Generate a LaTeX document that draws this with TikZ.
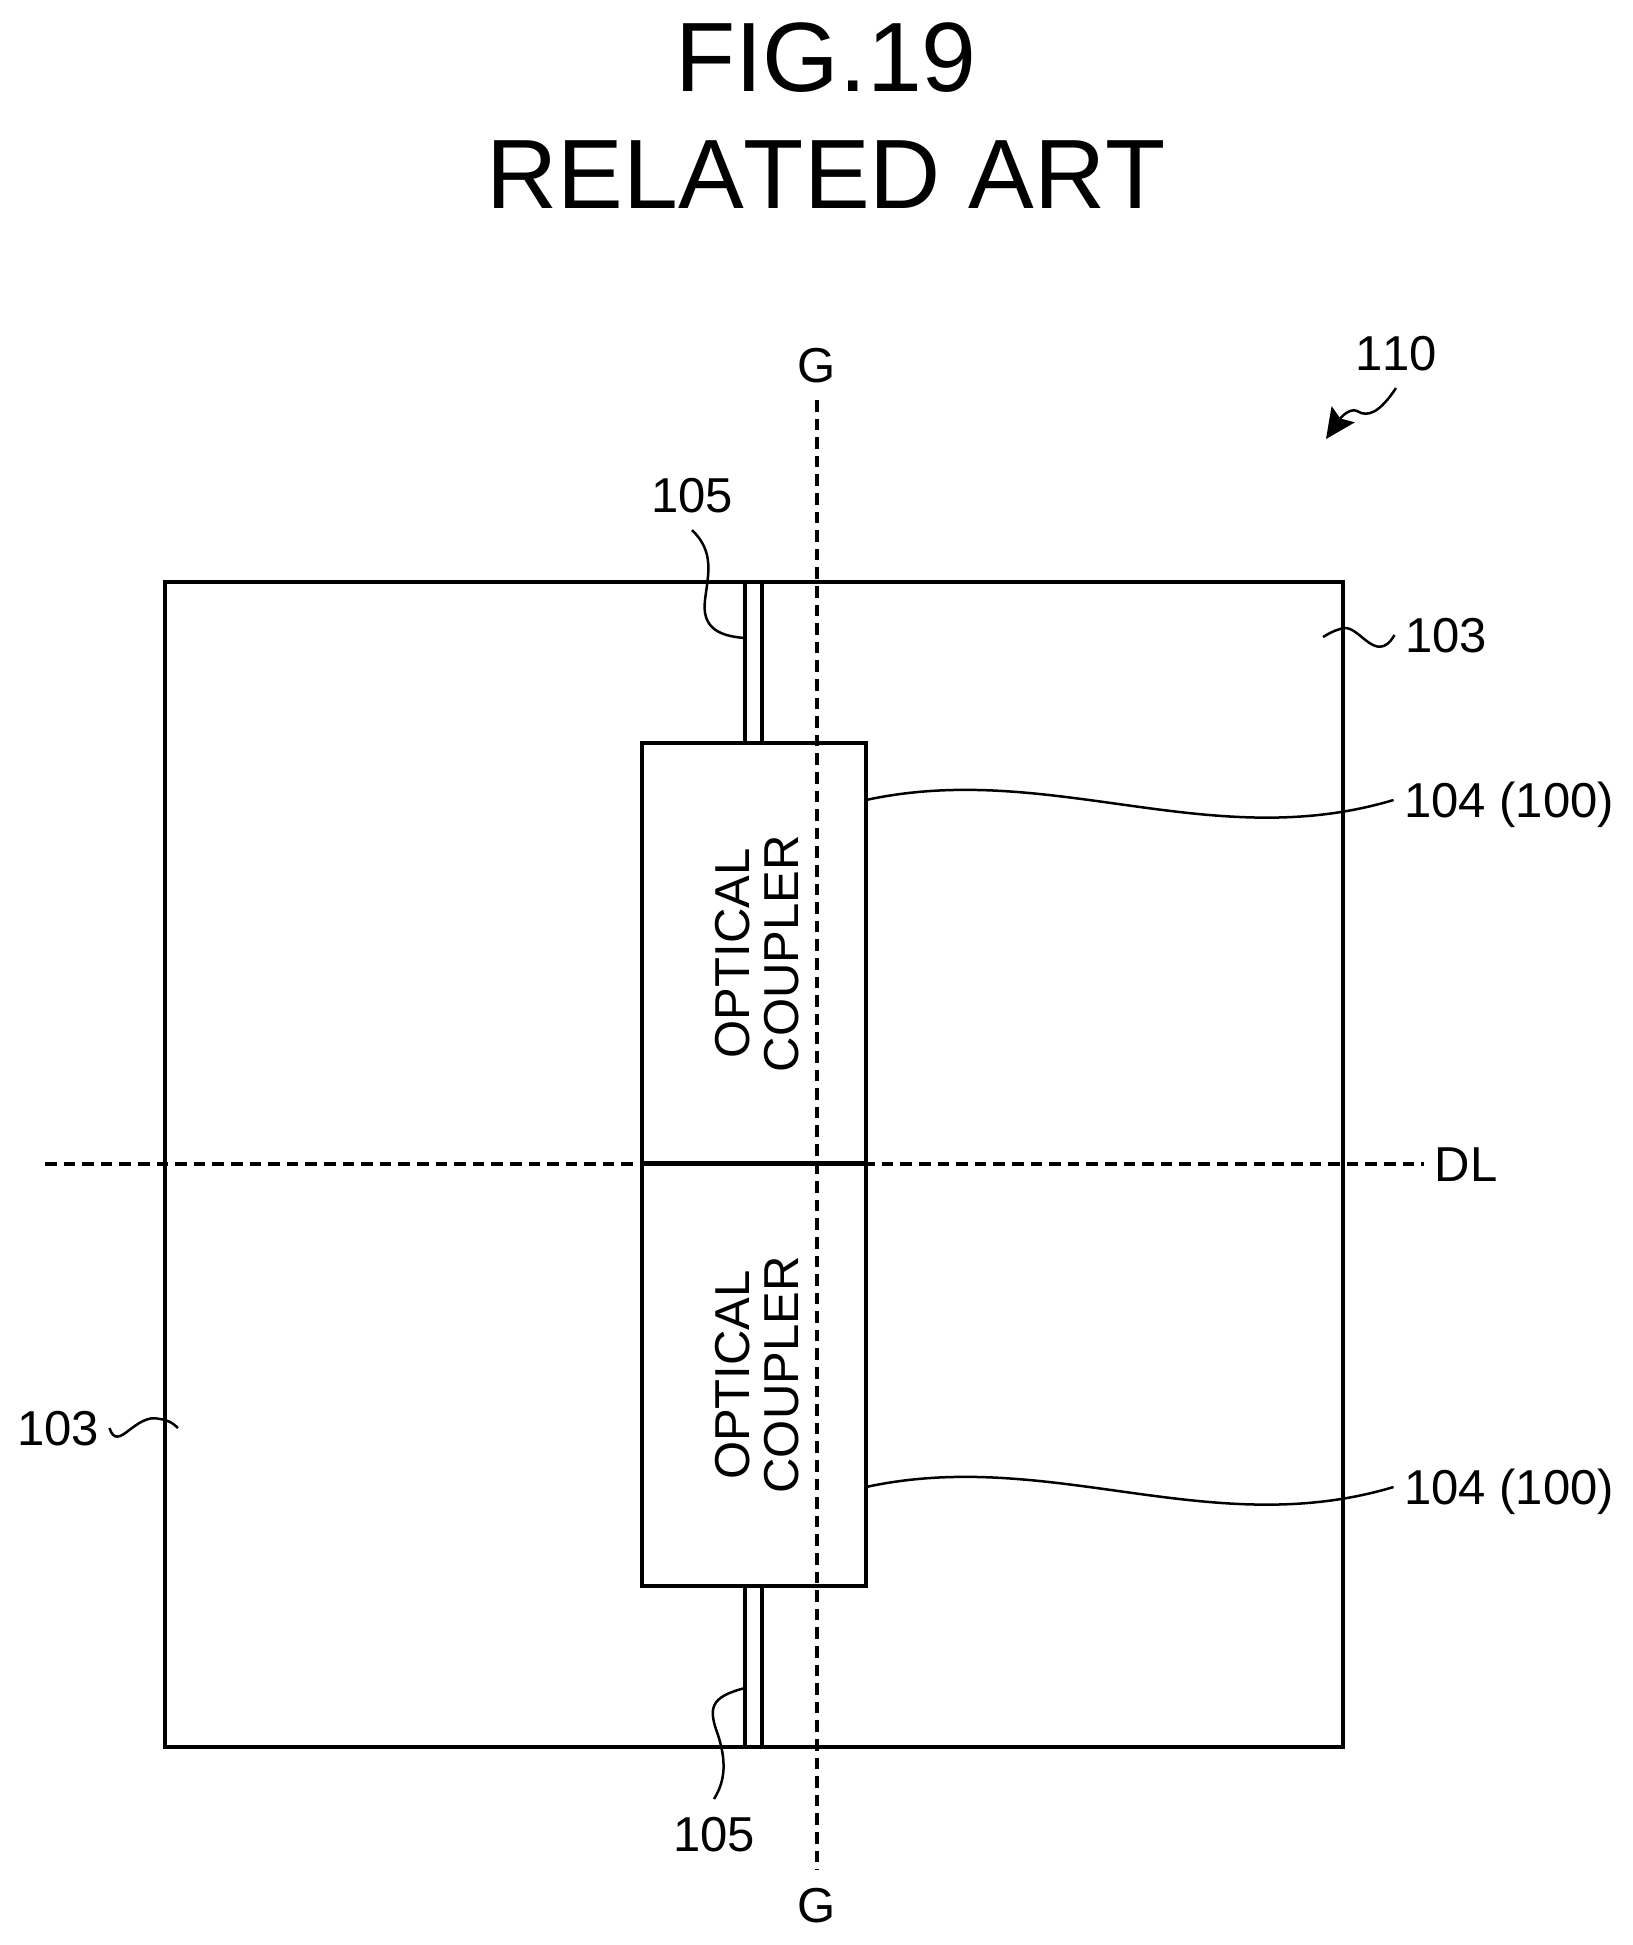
\documentclass[tikz,border=0pt]{standalone}
\usepackage{fontspec}
\setmainfont[Kerning=Off]{Liberation Sans}
\usetikzlibrary{arrows.meta}
\tikzstyle{chip} = [draw=black, line width=0.085cm]
\tikzstyle{wguide} = [draw=black, line width=0.075cm]
\tikzstyle{coupler} = [draw=black, line width=0.085cm, minimum width=4.48cm, minimum height=8.43cm, inner sep=0pt, outer sep=0pt]
\tikzstyle{cpltext} = [rotate=90, align=center, inner sep=0pt, font=\fontsize{27.9}{28.3}\selectfont]
\tikzstyle{reflbl} = [inner sep=0pt, outer sep=6pt, text height=0.7cm, text depth=0pt, font=\fontsize{27.9}{30}\selectfont]
\tikzstyle{title} = [inner sep=0pt, font=\fontsize{56.1}{60}\selectfont]
\tikzstyle{cutline} = [line width=0.07cm, dash pattern=on 0.232cm off 0.14cm]
\tikzstyle{leadline} = [line width=0.05cm]
\tikzstyle{arrow} = [line width=0.05cm, -{Stealth[length=0.6cm, width=0.56cm, inset=0.1cm]}]

\begin{document}
\begin{tikzpicture}[x=0.02cm, y=-0.02cm]
    \useasboundingbox (0,0) rectangle (1633,1945);
    \node (fig) [title] at (826,58) {FIG.19};
    \node (art) [title] at (826,175) {RELATED ART};

    % chip, waveguides and the two couplers
    \draw [chip] (165,582) rectangle (1343,1747);
    \draw [wguide] (745,582) rectangle (762,743);
    \draw [wguide] (745,1586) rectangle (762,1747);
    \node (cpl1) [coupler] at (754,953.5) {};
    \node (cpl2) [coupler, minimum height=8.45cm] at (754,1374.5) {};
    \node (txt1) [cpltext] at (757,953.5) {OPTICAL\\COUPLER};
    \node (txt2) [cpltext] at (757,1375) {OPTICAL\\COUPLER};

    % cut lines
    \node (gtop) [reflbl, outer sep=10pt] at (817,365) {G};
    \node (gbot) [reflbl, outer sep=10pt] at (817,1905) {G};
    \node (dl) [reflbl, anchor=center] at (1466,1164) {DL};
    \coordinate (dlstart) at (45,1164);
    \draw [cutline] (gtop.south) -- (gbot.north);
    \draw [cutline] (dlstart) -- (dl.west);

    % reference numerals
    \node (r110) [reflbl, outer sep=10pt] at (1396,353) {110};
    \node (r103a) [reflbl] at (1446,635) {103};
    \node (r103b) [reflbl] at (58,1428) {103};
    \node (r105a) [reflbl, outer sep=10pt] at (692,495) {105};
    \node (r105b) [reflbl, outer sep=10pt] at (714,1834) {105};
    \node (r104a) [reflbl] at (1509,800) {104 (100)};
    \node (r104b) [reflbl] at (1509,1487) {104 (100)};

    % lead lines
    \coordinate (tip110) at (1326,439);
    \coordinate (end103a) at (1323,637);
    \coordinate (end103b) at (178,1428);
    \coordinate (end105a) at (745,638);
    \coordinate (end105b) at (745,1688);
    \coordinate (end104a) at (866,800);
    \coordinate (end104b) at (866,1487);
    \draw [arrow] (r110.south) .. controls (1380,412) and (1368,418) .. (1357,411) .. controls (1350,408) and (1342,416) .. (tip110);
    \draw [leadline] (r103a.west) .. controls (1375,668) and (1358,620) .. (1340,629) .. controls (1333,631) and (1328,634) .. (end103a);
    \draw [leadline] (r103b.east) .. controls (118,1454) and (135,1412) .. (160,1419) .. controls (168,1420) and (173,1423) .. (end103b);
    \draw [leadline] (r105a.south) .. controls (715,552) and (708,575) .. (705,600) .. controls (702,625) and (715,636) .. (end105a);
    \draw [leadline] (r105b.north) .. controls (726,1780) and (726,1760) .. (718,1735) .. controls (708,1708) and (710,1697) .. (end105b);
    \draw [leadline] (r104a.west) .. controls (1210,855) and (1050,760) .. (end104a);
    \draw [leadline] (r104b.west) .. controls (1210,1542) and (1050,1447) .. (end104b);
\end{tikzpicture}
\end{document}
